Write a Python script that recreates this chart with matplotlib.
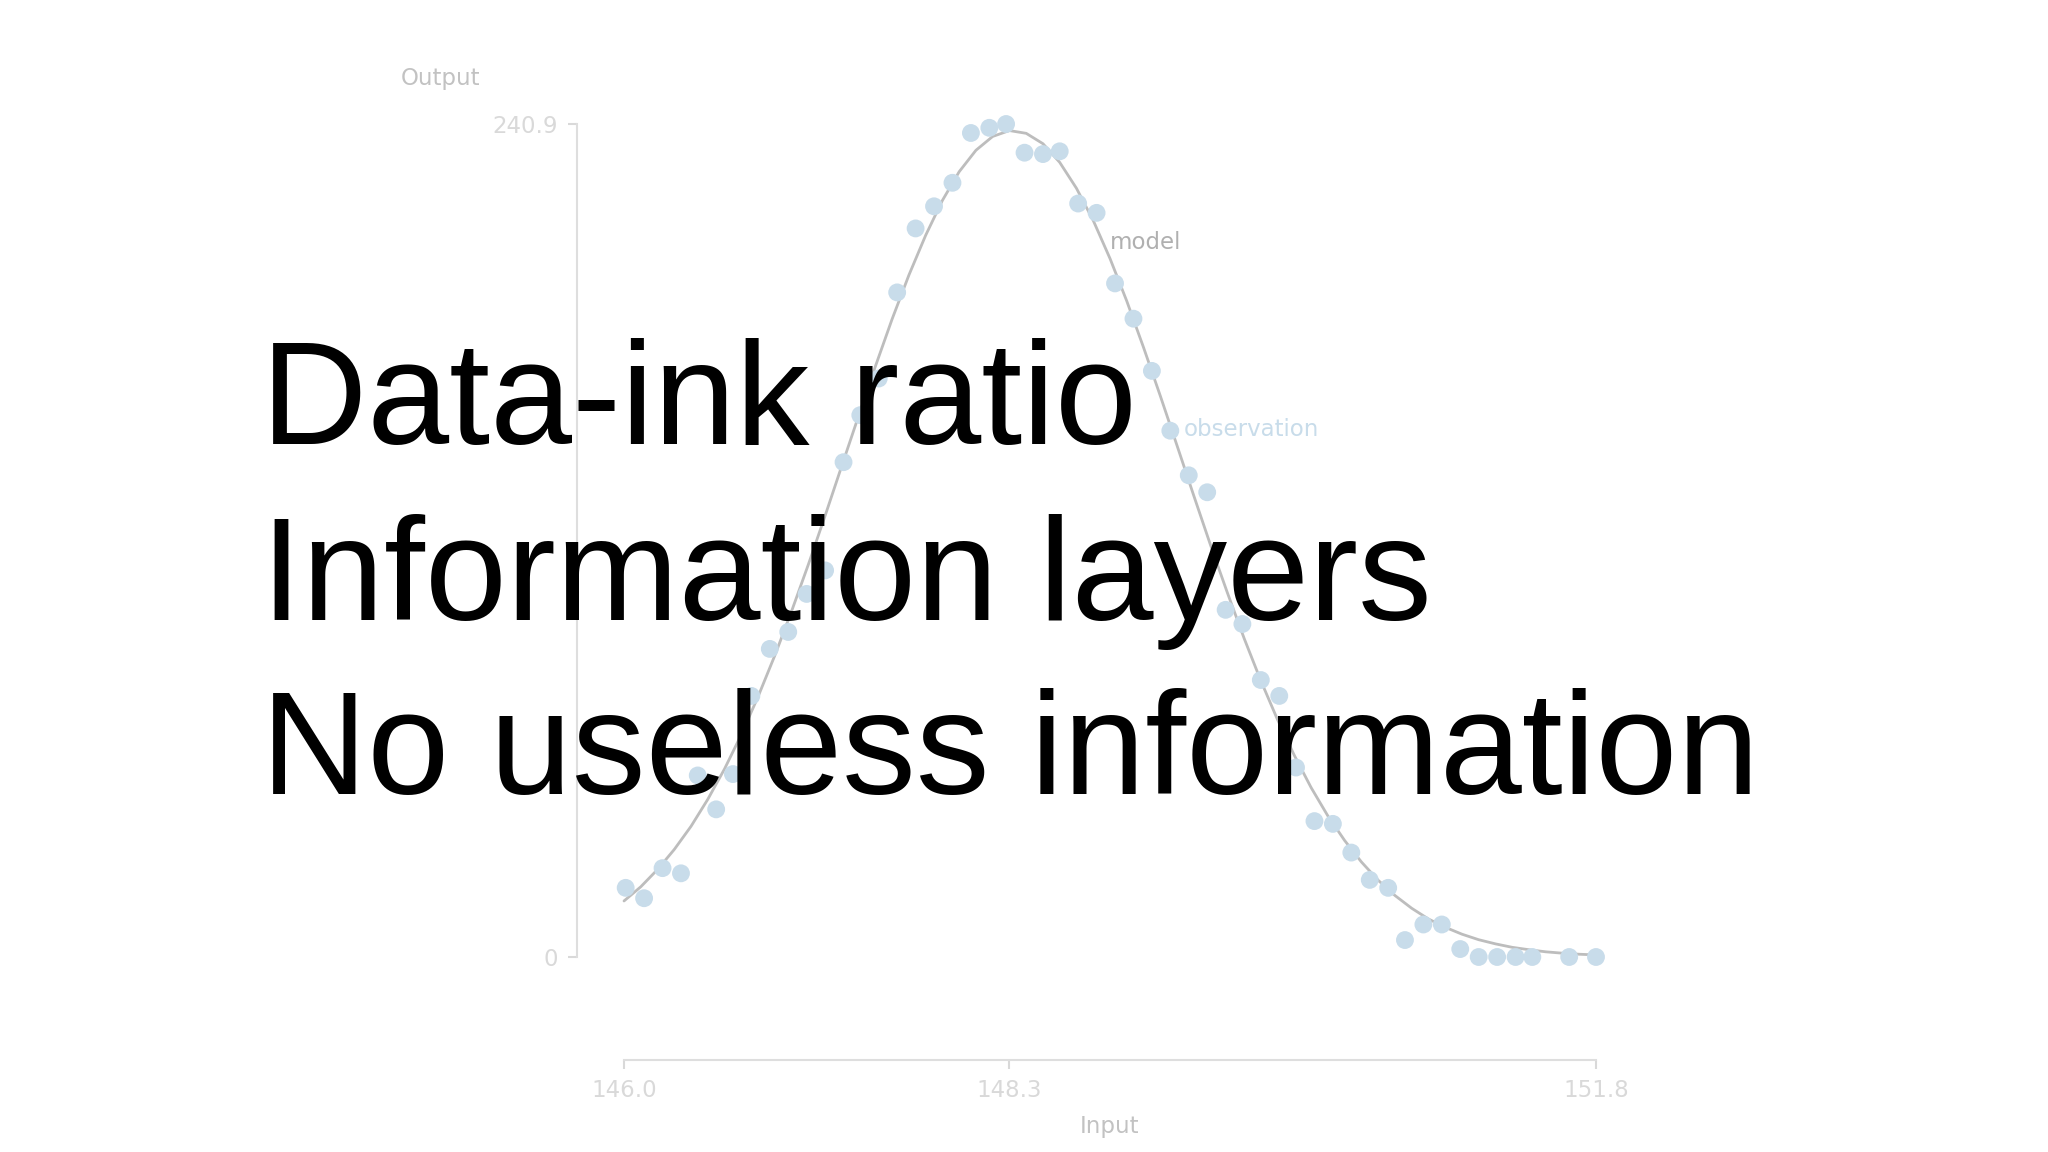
import matplotlib
matplotlib.use("Agg")
import matplotlib.pyplot as plt

obs_x = [146.01, 146.12, 146.23, 146.34, 146.44, 146.55, 146.65, 146.76, 146.87, 146.98,
         147.09, 147.20, 147.31, 147.41, 147.52, 147.63, 147.74, 147.85, 147.96, 148.07,
         148.18, 148.28, 148.39, 148.50, 148.60, 148.71, 148.82, 148.93, 149.04, 149.15,
         149.26, 149.37, 149.48, 149.59, 149.69, 149.80, 149.91, 150.01, 150.12, 150.23,
         150.34, 150.45, 150.56, 150.66, 150.77, 150.88, 150.99, 151.10, 151.21, 151.32,
         151.42, 151.64, 151.80]
obs_y = [20.0, 17.0, 25.7, 24.2, 52.5, 42.7, 52.9, 75.5, 89.1, 94.0,
         105.0, 111.8, 143.1, 156.7, 167.3, 192.2, 210.7, 217.1, 223.9, 238.3,
         239.8, 240.9, 232.6, 232.2, 233.0, 217.9, 215.2, 194.8, 184.6, 169.5,
         152.2, 139.3, 134.4, 100.4, 96.3, 80.1, 75.5, 54.8, 39.3, 38.5,
         30.2, 22.3, 20.0, 4.9, 9.4, 9.4, 2.3, 0.0, 0.0, 0.0,
         0.0, 0.0, 0.0]

# fitted model curve, values every 0.1
model_x = [146.0, 146.1, 146.2, 146.3, 146.4, 146.5, 146.6, 146.7, 146.8, 146.9,
           147.0, 147.1, 147.2, 147.3, 147.4, 147.5, 147.6, 147.7, 147.8, 147.9,
           148.0, 148.1, 148.2, 148.3, 148.4, 148.5, 148.6, 148.7, 148.8, 148.9,
           149.0, 149.1, 149.2, 149.3, 149.4, 149.5, 149.6, 149.7, 149.8, 149.9,
           150.0, 150.1, 150.2, 150.3, 150.4, 150.5, 150.6, 150.7, 150.8, 150.9,
           151.0, 151.1, 151.2, 151.3, 151.4, 151.5, 151.6, 151.7, 151.8]
model_y = [16.2, 20.3, 25.3, 31.1, 37.8, 45.6, 54.4, 64.3, 75.3, 87.2,
           100.0, 113.5, 127.6, 142.1, 156.5, 170.8, 184.5, 197.2, 208.7, 218.8,
           227.1, 233.3, 237.3, 239.0, 238.2, 235.2, 229.8, 222.3, 213.0, 202.0,
           189.7, 176.3, 162.3, 147.9, 133.4, 119.1, 105.4, 92.2, 79.9, 68.6,
           58.3, 49.0, 40.8, 33.7, 27.5, 22.2, 17.8, 14.1, 11.0, 8.6,
           6.6, 5.0, 3.8, 2.8, 2.1, 1.5, 1.1, 0.8, 0.6]

x_ticks = [146.0, 148.3, 151.8]
y_ticks = [0, 240.9]
x_ticklabels = ["146.0", "148.3", "151.8"]
y_ticklabels = ["0", "240.9"]

headline = ["Data-ink ratio", "Information layers", "No useless information"]

tick_color = "#d9d9d9"
spine_color = "#dedede"
label_color = "#c2c2c2"
obs_color = "#c8dcea"
model_color = "#bdbdbd"

fig = plt.figure(figsize=(20.48, 11.52), dpi=100)
ax = fig.add_axes([624 / 2048, 1 - 957 / 1152, (1596 - 624) / 2048, (957 - 124) / 1152])

ax.plot(model_x, model_y, color=model_color, lw=2.0, zorder=2, clip_on=False,
        solid_joinstyle="round", solid_capstyle="round")
ax.scatter(obs_x, obs_y, s=165, color=obs_color, edgecolors="none", zorder=3, clip_on=False)

ax.text(148.90, 206.5, "model", color="#b0b0b0", fontsize=16.5, va="center", ha="left")
ax.text(149.34, 152.5, "observation", color=obs_color, fontsize=16.5, va="center", ha="left")

ax.set_xlim(146.0, 151.8)
ax.set_ylim(0, 240.9)
ax.set_xticks(x_ticks)
ax.set_xticklabels(x_ticklabels)
ax.set_yticks(y_ticks)
ax.set_yticklabels(y_ticklabels)

for side in ["top", "right"]:
    ax.spines[side].set_visible(False)
ax.spines["left"].set_position(("outward", 34))
ax.spines["bottom"].set_position(("outward", 74))
for side in ["left", "bottom"]:
    ax.spines[side].set_color(spine_color)
    ax.spines[side].set_linewidth(1.5)

ax.tick_params(colors=tick_color, labelsize=16.5, length=6.5, width=1.5, pad=7)
ax.set_facecolor("none")

ax.set_xlabel("Input", color=label_color, fontsize=16.5, labelpad=10)
fig.text(440 / 2048, 1 - 79 / 1152, "Output", color=label_color, fontsize=16.5,
         ha="center", va="center")

baselines = [444, 620, 794]
for line, yb in zip(headline, baselines):
    fig.text(261 / 2048, 1 - yb / 1152, line, color="black", fontsize=106,
             family=["Liberation Sans", "DejaVu Sans"], ha="left", va="baseline", zorder=5)

fig.savefig("out.png", dpi=100, facecolor="white")
